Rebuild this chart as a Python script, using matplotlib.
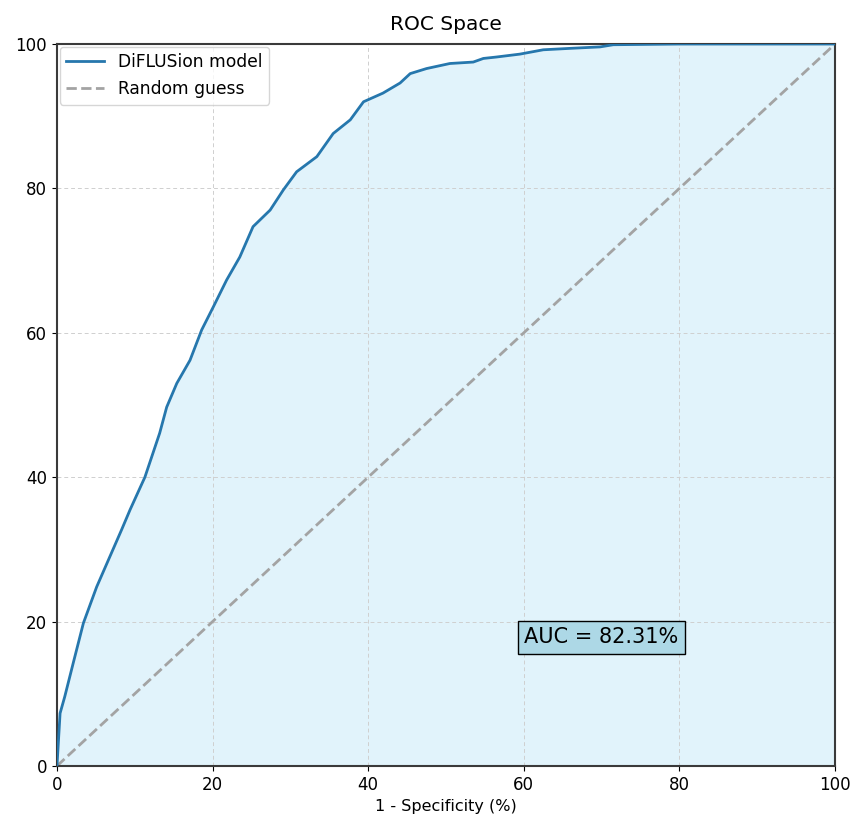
import numpy as np
import matplotlib.pyplot as plt

# ROC curve (1 - specificity %, sensitivity %)
fpr = [0, 0.4, 1.0, 2.1, 3.4, 5.1, 6.8, 8.3, 9.4, 11.3, 13.2, 14.1, 15.4, 17.1,
       18.6, 20.1, 21.8, 23.5, 25.2, 27.4, 29.1, 30.8, 33.4, 35.5, 37.7, 39.4,
       41.9, 44.1, 45.4, 47.5, 50.5, 53.5, 54.8, 56.5, 59.5, 62.5, 66.0, 69.8,
       71.5, 80.0, 90.0, 100.0]
tpr = [0, 7.3, 9.6, 14.3, 19.8, 24.8, 29.0, 32.7, 35.5, 40.0, 46.1, 49.7, 53.0,
       56.2, 60.4, 63.6, 67.3, 70.5, 74.7, 77.0, 79.8, 82.3, 84.4, 87.6, 89.5,
       92.0, 93.2, 94.6, 95.9, 96.6, 97.3, 97.5, 98.0, 98.2, 98.6, 99.2, 99.4,
       99.6, 99.9, 100.0, 100.0, 100.0]
auc = 82.31

fig = plt.figure(figsize=(8.54, 8.18), dpi=100)
ax = fig.add_axes([0.0667, 0.0636, 0.9111, 0.8826])

ax.fill_between(fpr, tpr, 0, color="#e1f3fb", zorder=1)
ax.plot(fpr, tpr, color="#2677ad", lw=2, label="DiFLUSion model", zorder=3)
ax.plot([0, 100], [0, 100], linestyle="--", color="#a3a3a3", lw=2,
        label="Random guess", zorder=2)

ax.set_xlim(0, 100)
ax.set_ylim(0, 100)
ax.set_xticks([0, 20, 40, 60, 80, 100])
ax.set_yticks([0, 20, 40, 60, 80, 100])
ax.tick_params(labelsize=12)
ax.grid(True, linestyle=(0, (4, 3)), color="#cfcfcf", lw=0.7, zorder=0)
for s in ax.spines.values():
    s.set_color("#3a3a3a")
    s.set_linewidth(1.5)

ax.set_title("ROC Space", fontsize=14.5, pad=10)
ax.set_xlabel("1 - Specificity (%)", fontsize=11.5)
ax.legend(loc="upper left", fontsize=12.3, borderaxespad=0.15, handlelength=2.2)

ax.text(70, 17.8, f"AUC = {auc:.2f}%", fontsize=15, ha="center", va="center",
        bbox=dict(facecolor="#add8e6", edgecolor="black", boxstyle="square,pad=0.3"),
        zorder=5)

fig.savefig("out.png", dpi=100)
